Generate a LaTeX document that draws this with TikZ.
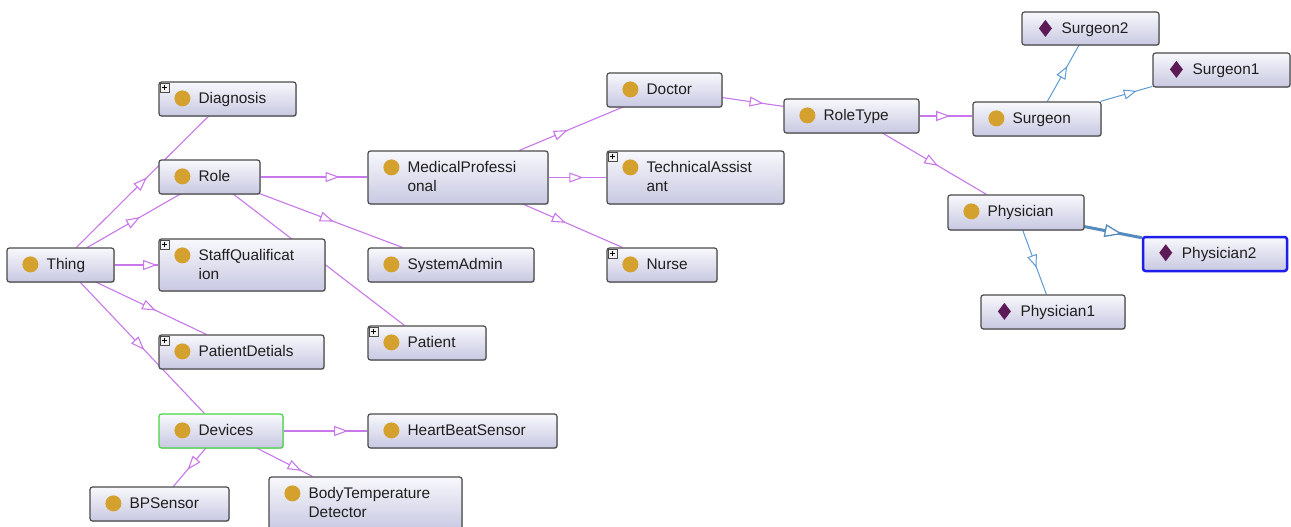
\documentclass[tikz,border=0pt]{standalone}
\usepackage{fontspec}
\setmainfont{Liberation Sans}
\usetikzlibrary{calc,arrows.meta,decorations.markings,backgrounds,shadows}
\definecolor{edgev}{RGB}{200,120,232}
\definecolor{edgeb}{RGB}{95,155,210}
\definecolor{goldc}{RGB}{212,161,46}
\definecolor{diamc}{RGB}{92,26,86}
\definecolor{boxtop}{RGB}{248,248,252}
\definecolor{boxbot}{RGB}{200,200,226}
\definecolor{boxline}{RGB}{75,75,75}
\definecolor{devgreen}{RGB}{70,215,70}
\definecolor{selblue}{RGB}{30,30,235}
\tikzset{
  clsbox/.style={draw=boxline, line width=1.2pt, rounded corners=2.5pt,
    top color=boxtop, bottom color=boxbot, inner sep=0pt,
    drop shadow={shadow xshift=0.9pt, shadow yshift=-0.9pt, opacity=0.35}},
  lbl/.style={inner sep=0pt, font=\fontsize{15.4}{19}\selectfont, text=black!88},
  isa/.style={draw=edgev, line width=1.1pt, postaction={decorate, decoration={markings,
    mark=at position #1 with {\arrow{Triangle[fill=white,length=14pt,width=10pt]}}}}},
  inst/.style={draw=edgeb, line width=1pt, postaction={decorate, decoration={markings,
    mark=at position #1 with {\arrow{Triangle[fill=white,length=13pt,width=10pt]}}}}},
  thickinst/.style={draw=edgeb!90!black, line width=3pt, postaction={decorate, decoration={markings,
    mark=at position #1 with {\arrow{Triangle[fill=white,length=18pt,width=13pt,line width=1.3pt]}}}}},
}
\newcommand\cnode[6][]{%
  \node[clsbox,#1,minimum width={#5-#3},minimum height={#6-#4}] (#2) at ({(#3+#5)/2},{(#4+#6)/2}) {};}
\newcommand\ctext[2]{\node[lbl,anchor=base west] at ($(#1.north west)+(40,22.5)$) {#2};}
\newcommand\ctextb[3]{\node[lbl,anchor=base west] at ($(#1.north west)+(40,22.5)$) {#2};
  \node[lbl,anchor=base west] at ($(#1.north west)+(40,41.5)$) {#3};}
\newcommand\gicon[1]{\fill[goldc] ($(#1.north west)+(24,17)$) circle (8pt);}
\newcommand\dicon[1]{\fill[diamc] ($(#1.north west)+(24,17)$) +(0,-8.5) -- +(6.5,0) -- +(0,8.5) -- +(-6.5,0) -- cycle;}
\newcommand\pbox[1]{\draw[draw=black!70, fill=blue!8!black!6, line width=0.6pt] ($(#1.north west)+(1.5,1.5)$) rectangle +(9,9);
  \draw[line width=0.9pt] ($(#1.north west)+(6,3.5)$) -- +(0,5) ($(#1.north west)+(3.5,6)$) -- +(5,0);}
\begin{document}
\begin{tikzpicture}[x=1pt,y=-1pt]
\useasboundingbox (0,0) rectangle (1291,527);
% classes
\cnode{Diagnosis}{159}{82}{296}{116} \gicon{Diagnosis} \pbox{Diagnosis} \ctext{Diagnosis}{Diagnosis}
\cnode{Role}{159}{160}{260}{194} \gicon{Role} \ctext{Role}{Role}
\cnode{Thing}{7}{248}{114}{282} \gicon{Thing} \ctext{Thing}{Thing}
\cnode{SQ}{159}{239}{325}{291} \gicon{SQ} \pbox{SQ} \ctextb{SQ}{StaffQualificat}{ion}
\cnode{PD}{159}{335}{324}{369} \gicon{PD} \pbox{PD} \ctext{PD}{PatientDetials}
\cnode{Patient}{368}{326}{486}{360} \gicon{Patient} \pbox{Patient} \ctext{Patient}{Patient}
\cnode[draw=devgreen]{Devices}{159}{414}{283}{448} \gicon{Devices} \ctext{Devices}{Devices}
\cnode{HBS}{368}{414}{557}{448} \gicon{HBS} \ctext{HBS}{HeartBeatSensor}
\cnode{BTD}{269}{477}{462}{531} \gicon{BTD} \ctextb{BTD}{BodyTemperature}{Detector}
\cnode{BPS}{90}{487}{229}{521} \gicon{BPS} \ctext{BPS}{BPSensor}
\cnode{MP}{368}{151}{548}{204} \gicon{MP} \ctextb{MP}{MedicalProfessi}{onal}
\cnode{Doctor}{607}{73}{722}{107} \gicon{Doctor} \ctext{Doctor}{Doctor}
\cnode{TA}{607}{151}{784}{204} \gicon{TA} \pbox{TA} \ctextb{TA}{TechnicalAssist}{ant}
\cnode{SA}{368}{248}{534}{282} \gicon{SA} \ctext{SA}{SystemAdmin}
\cnode{Nurse}{607}{248}{717}{282} \gicon{Nurse} \pbox{Nurse} \ctext{Nurse}{Nurse}
\cnode{RT}{784}{99}{919}{133} \gicon{RT} \ctext{RT}{RoleType}
\cnode{Surgeon}{973}{102}{1101}{136} \gicon{Surgeon} \ctext{Surgeon}{Surgeon}
\cnode{Phys}{948}{195}{1084}{230} \gicon{Phys} \ctext{Phys}{Physician}
% individuals
\cnode{S2}{1022}{12}{1159}{45} \dicon{S2} \ctext{S2}{Surgeon2}
\cnode{S1}{1153}{53}{1290}{87} \dicon{S1} \ctext{S1}{Surgeon1}
\cnode[draw=selblue,line width=2.5pt]{P2}{1143}{237}{1287}{271} \dicon{P2} \ctext{P2}{Physician2}
\cnode{P1}{981}{295}{1125}{329} \dicon{P1} \ctext{P1}{Physician1}
% edges
\begin{pgfonlayer}{background}
\fill[white] (0,0) rectangle (1291,527);
\draw[isa=0.53] ($(Thing.north west)+(70,0)$) -- ($(Diagnosis.north west)+(51,34)$);
\draw[isa=0.56] ($(Thing.north west)+(81,0)$) -- ($(Role.north west)+(23,34)$);
\draw[isa=0.97] (Thing.east) -- (Thing.east -| SQ.west);
\draw[isa=0.55] ($(Thing.north west)+(88,34)$) -- ($(PD.north west)+(48,0)$);
\draw[isa=0.52] ($(Thing.north west)+(73,34)$) -- ($(Devices.north west)+(46,0)$);
\draw[isa=0.74] (Role.east) -- (Role.east -| MP.west);
\draw[isa=0.53] ($(Role.north west)+(98,33)$) -- ($(SA.north west)+(35,0)$);
\draw[isa=0.45] ($(Role.north west)+(74,34)$) -- ($(Patient.north west)+(37,0)$);
\draw[isa=0.46] ($(MP.north west)+(152,0)$) -- ($(Doctor.north west)+(18,34)$);
\draw[isa=0.60] (MP.east) -- (TA.west);
\draw[isa=0.44] ($(MP.north west)+(154,53)$) -- ($(Nurse.north west)+(16,0)$);
\draw[isa=0.68] ($(Doctor.north west)+(115,25)$) -- ($(RT.north west)+(0,8)$);
\draw[isa=0.58] (RT.east) -- (RT.east -| Surgeon.west);
\draw[isa=0.54] ($(RT.north west)+(98,34)$) -- ($(Phys.north west)+(39,0)$);
\draw[isa=0.77] (Devices.east) -- (HBS.west);
\draw[isa=0.57] ($(Devices.north west)+(48,34)$) -- ($(BPS.north west)+(84,0)$);
\draw[isa=0.81] ($(Devices.north west)+(97,34)$) -- ($(BTD.north west)+(44,0)$);
\draw[inst=0.62] ($(Surgeon.north west)+(75,0)$) -- ($(S2.north west)+(58,33)$);
\draw[inst=0.70] ($(Surgeon.north west)+(128,0)$) -- ($(S1.north west)+(0,34)$);
\draw[inst=0.59] ($(Phys.north west)+(75,35)$) -- ($(P1.north west)+(66,0)$);
\draw[thickinst=0.67] ($(Phys.north west)+(136,32)$) -- ($(P2.north west)+(0,2)$);
\end{pgfonlayer}
\end{tikzpicture}
\end{document}
